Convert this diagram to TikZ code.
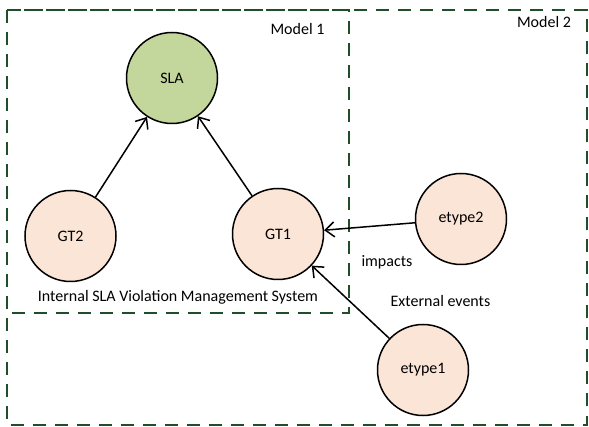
\documentclass[tikz,border=0pt]{standalone}
\usepackage{fontspec}
\setmainfont{Carlito}
\usetikzlibrary{arrows.meta}
\definecolor{boxgreen}{RGB}{32,78,42}
\definecolor{slafill}{RGB}{195,214,155}
\definecolor{gtfill}{RGB}{251,229,214}
\tikzset{
  every node/.style={font=\fontsize{16}{19}\selectfont},
  modelbox/.style={draw=boxgreen, line width=2pt, dash pattern=on 13pt off 9pt},
  goal/.style={circle, draw=black, line width=1.5pt, minimum size=91pt, inner sep=0pt},
  link/.style={draw=black, line width=1.5pt, -{Straight Barb[length=9pt,width=15pt,line width=1.5pt]}},
  lbl/.style={anchor=base, inner sep=0pt}
}
\begin{document}
\begin{tikzpicture}[x=1pt, y=-1pt]
  \useasboundingbox (0,0) rectangle (589,427);
  % Model 2 frame and Model 1 frame
  \draw[modelbox] (7,10) rectangle (586.5,424.5);
  \draw[modelbox] (7,10) rectangle (349,313);
  % goal nodes
  \node[goal, fill=slafill] (sla) at (172,78) {SLA};
  \node[goal, fill=gtfill] (gt2) at (70.5,236) {GT2};
  \node[goal, fill=gtfill] (gt1) at (278,234) {GT1};
  \node[goal, fill=gtfill] (e2) at (461,219) {etype2};
  \node[goal, fill=gtfill] (e1) at (423,370) {etype1};
  % connectors
  \draw[link] (gt2) -- (sla);
  \draw[link] (gt1) -- (sla);
  \draw[link] (e2) -- (gt1);
  \draw[link] (e1) -- (gt1);
  % labels
  \node[lbl] (m1) at (297.5,34.5) {Model 1};
  \node[lbl] (m2) at (544,27.5) {Model 2};
  \node[lbl] (sys) at (178,302) {Internal SLA Violation Management System};
  \node[lbl] (imp) at (387,267) {impacts};
  \node[lbl] (ext) at (440.5,306.5) {External events};
\end{tikzpicture}
\end{document}
